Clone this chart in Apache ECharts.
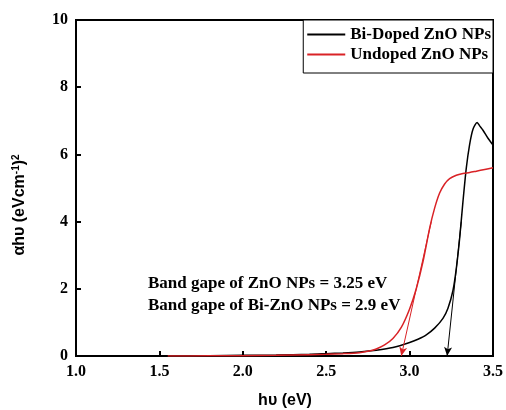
<!DOCTYPE html>
<html>
<head>
<meta charset="utf-8">
<script src="https://cdn.jsdelivr.net/npm/echarts@6/dist/echarts.min.js"></script>
<style>
  html, body { margin: 0; background: #fff; }
  #chart { width: 506px; height: 410px; }
</style>
</head>
<body>
<div id="chart"></div>
<script>
// Bi-doped ZnO NPs (black)
const dopedX = [1.55, 1.8, 2.0, 2.2, 2.4, 2.5, 2.6, 2.7, 2.8, 2.9, 3.0, 3.05, 3.1, 3.15, 3.2, 3.23, 3.26, 3.28, 3.3, 3.32, 3.34, 3.36, 3.38, 3.405, 3.42, 3.44, 3.47, 3.5]
const dopedY = [0, 0.01, 0.02, 0.03, 0.05, 0.07, 0.09, 0.12, 0.17, 0.25, 0.4, 0.5, 0.63, 0.83, 1.12, 1.42, 1.95, 2.6, 3.5, 4.6, 5.6, 6.3, 6.75, 6.95, 6.85, 6.72, 6.48, 6.28]
// undoped ZnO NPs (red)
const undopedX = [1.55, 1.8, 2.0, 2.2, 2.4, 2.5, 2.6, 2.7, 2.75, 2.8, 2.85, 2.9, 2.95, 3.0, 3.04, 3.08, 3.12, 3.15, 3.18, 3.21, 3.24, 3.28, 3.32, 3.36, 3.4, 3.45, 3.5]
const undopedY = [0, 0.005, 0.01, 0.02, 0.04, 0.05, 0.07, 0.1, 0.14, 0.21, 0.33, 0.52, 0.85, 1.4, 2.0, 2.8, 3.8, 4.4, 4.85, 5.12, 5.28, 5.38, 5.43, 5.46, 5.5, 5.55, 5.6]
// tangent arrows [start, end]
const dopedTangent = [[3.31, 4.0], [3.225, 0]]
const undopedTangent = [[3.13, 4.0], [2.95, 0]]

const seriesNames = ['Bi-Doped ZnO NPs', 'Undoped ZnO NPs']
const xTicks = [1.0, 1.5, 2.0, 2.5, 3.0, 3.5]
const yTicks = [0, 2, 4, 6, 8, 10]
const noteLines = ['Band gape of ZnO NPs = 3.25 eV', 'Band gape of Bi-ZnO NPs = 2.9 eV']

const serif = '"Liberation Serif", "Times New Roman", serif'
const sans = '"Liberation Sans", Arial, sans-serif'

function pairs(xs, ys) {
  return xs.map((x, i) => [x, ys[i]])
}

function arrow(t, color) {
  return {
    silent: true,
    symbol: ['none', 'arrow'],
    symbolSize: [6, 9],
    label: { show: false },
    lineStyle: { color: color, width: 1, type: 'solid' },
    data: [[{ coord: t[0] }, { coord: t[1] }]]
  }
}

const chart = echarts.init(document.getElementById('chart'))
chart.setOption({
  animation: false,
  backgroundColor: '#fff',
  grid: {
    left: 76, right: 13, top: 20, bottom: 54,
    show: true, borderColor: '#000', borderWidth: 2
  },
  legend: {
    data: seriesNames,
    orient: 'vertical',
    right: 13,
    top: 20,
    icon: 'rect',
    itemWidth: 38,
    itemHeight: 2,
    itemGap: 3,
    padding: [6, 2, 10, 4],
    borderColor: '#000',
    borderWidth: 1,
    backgroundColor: '#fff',
    textStyle: { fontFamily: serif, fontWeight: 'bold', fontSize: 17, color: '#000' }
  },
  xAxis: {
    type: 'value',
    min: xTicks[0],
    max: xTicks[xTicks.length - 1],
    interval: 0.5,
    axisLine: { lineStyle: { color: '#000', width: 2 } },
    axisTick: { inside: true, length: 5, lineStyle: { color: '#000', width: 2 } },
    splitLine: { show: false },
    axisLabel: {
      margin: 8, color: '#000', fontFamily: serif, fontWeight: 'bold', fontSize: 16,
      formatter: v => v.toFixed(1)
    }
  },
  yAxis: {
    type: 'value',
    min: yTicks[0],
    max: yTicks[yTicks.length - 1],
    interval: 2,
    axisLine: { lineStyle: { color: '#000', width: 2 } },
    axisTick: { inside: true, length: 5, lineStyle: { color: '#000', width: 2 } },
    splitLine: { show: false },
    axisLabel: { margin: 8, color: '#000', fontFamily: serif, fontWeight: 'bold', fontSize: 16 }
  },
  series: [
    {
      name: seriesNames[0],
      type: 'line',
      data: pairs(dopedX, dopedY),
      symbol: 'none',
      smooth: 0.25,
      color: '#000',
      lineStyle: { width: 1.5 },
      markLine: arrow(dopedTangent, '#000')
    },
    {
      name: seriesNames[1],
      type: 'line',
      data: pairs(undopedX, undopedY),
      symbol: 'none',
      smooth: 0.25,
      color: '#d92226',
      lineStyle: { width: 1.5 },
      markLine: arrow(undopedTangent, '#d92226')
    }
  ],
  graphic: [
    {
      type: 'text',
      left: 148,
      top: 273,
      style: {
        text: noteLines.join('\n'),
        font: 'bold 17px ' + serif,
        lineHeight: 22,
        fill: '#000'
      }
    },
    {
      type: 'text',
      x: 285,
      y: 401,
      style: {
        text: 'hυ (eV)',
        font: 'bold 16px ' + sans,
        fill: '#000',
        align: 'center',
        verticalAlign: 'middle'
      }
    },
    {
      type: 'text',
      x: 20,
      y: 205,
      rotation: Math.PI / 2,
      style: {
        text: '{a|αhυ (eVcm}{s|-1}{a|)}{s|2}',
        align: 'center',
        verticalAlign: 'middle',
        fill: '#000',
        rich: {
          a: { font: 'bold 16px ' + sans, fill: '#000' },
          s: { font: 'bold 10px ' + sans, fill: '#000', verticalAlign: 'top', padding: [0, 0, 8, 0] }
        }
      }
    }
  ]
})
</script>
</body>
</html>
